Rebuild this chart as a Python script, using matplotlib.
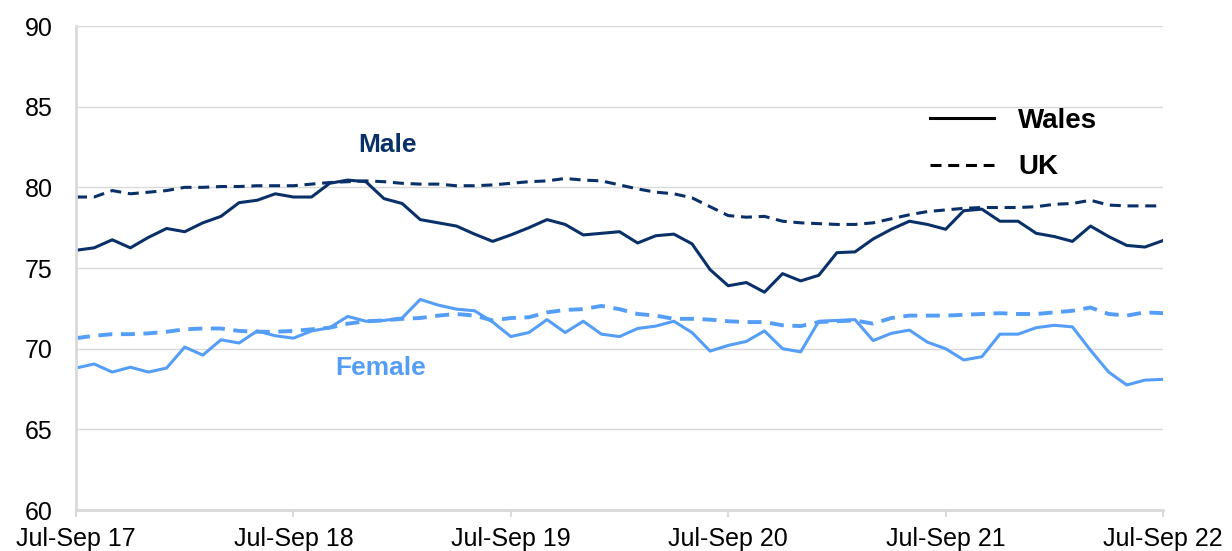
import numpy as np
import matplotlib
matplotlib.use("Agg")
from matplotlib import pyplot as plt
from matplotlib.lines import Line2D

plt.rcParams['font.family'] = ['Liberation Sans', 'DejaVu Sans']

# rolling quarters, monthly from Jul-Sep 17 to Jul-Sep 22
tick_labels = ['Jul-Sep 17', 'Jul-Sep 18', 'Jul-Sep 19', 'Jul-Sep 20', 'Jul-Sep 21', 'Jul-Sep 22']

male_wales = [76.1, 76.25, 76.75, 76.25, 76.9, 77.45, 77.25, 77.8, 78.2, 79.05,
              79.2, 79.6, 79.4, 79.4, 80.25, 80.45, 80.35, 79.3, 79.0, 78.0,
              77.8, 77.6, 77.1, 76.65, 77.05, 77.5, 78.0, 77.7, 77.05, 77.15,
              77.25, 76.55, 77.0, 77.1, 76.5, 74.9, 73.9, 74.1, 73.5, 74.65,
              74.2, 74.55, 75.95, 76.0, 76.8, 77.4, 77.9, 77.7, 77.4, 78.55,
              78.65, 77.9, 77.9, 77.15, 76.95, 76.65, 77.6, 76.95, 76.4, 76.3,
              76.7]
male_uk = [79.4, 79.4, 79.8, 79.6, 79.7, 79.8, 80.0, 80.0, 80.05, 80.05,
           80.1, 80.1, 80.1, 80.2, 80.3, 80.35, 80.4, 80.35, 80.25, 80.2,
           80.2, 80.1, 80.1, 80.15, 80.25, 80.35, 80.4, 80.55, 80.45, 80.4,
           80.15, 79.9, 79.7, 79.6, 79.35, 78.8, 78.25, 78.15, 78.2, 77.9,
           77.8, 77.75, 77.7, 77.7, 77.8, 78.05, 78.3, 78.5, 78.6, 78.7,
           78.75, 78.75, 78.75, 78.8, 78.95, 79.0, 79.2, 78.9, 78.85, 78.85,
           78.85]
female_wales = [68.8, 69.05, 68.55, 68.85, 68.55, 68.8, 70.1, 69.6, 70.55, 70.35,
                71.1, 70.8, 70.65, 71.1, 71.3, 72.0, 71.7, 71.75, 71.9, 73.05,
                72.7, 72.45, 72.35, 71.65, 70.75, 71.0, 71.8, 71.0, 71.7, 70.9,
                70.75, 71.25, 71.4, 71.7, 71.0, 69.85, 70.2, 70.45, 71.1, 70.0,
                69.8, 71.7, 71.75, 71.8, 70.5, 70.95, 71.15, 70.4, 70.0, 69.3,
                69.5, 70.9, 70.9, 71.3, 71.45, 71.35, 69.9, 68.55, 67.75, 68.05,
                68.1]
female_uk = [70.65, 70.8, 70.9, 70.9, 70.95, 71.05, 71.2, 71.25, 71.25, 71.1,
             71.05, 71.05, 71.1, 71.2, 71.3, 71.55, 71.7, 71.75, 71.85, 71.9,
             72.05, 72.15, 72.05, 71.75, 71.9, 71.95, 72.25, 72.4, 72.45, 72.65,
             72.45, 72.15, 72.05, 71.85, 71.85, 71.8, 71.7, 71.65, 71.65, 71.45,
             71.4, 71.65, 71.7, 71.75, 71.55, 71.9, 72.05, 72.05, 72.05, 72.1,
             72.15, 72.2, 72.15, 72.15, 72.25, 72.35, 72.55, 72.15, 72.05, 72.25,
             72.2]

navy = '#0a3069'
light = '#559ef8'
grey = '#d9d9d9'

x = np.arange(len(male_wales))

fig = plt.figure(figsize=(12.32, 5.51), dpi=100)
ax = fig.add_axes([0.0617, 0.0744, 0.8823, 0.8784])

dash = (0, (3.6, 2.2))
ax.plot(x, male_uk, color=navy, lw=2.2, ls=dash)
ax.plot(x, male_wales, color=navy, lw=2.2)
ax.plot(x, female_uk, color=light, lw=2.8, ls=dash)
ax.plot(x, female_wales, color=light, lw=2.2)

ax.set_xlim(0, 60)
ax.set_ylim(60, 90)
ax.set_yticks(np.arange(60, 91, 5))
ax.set_xticks(np.arange(0, 61, 12))
ax.set_xticklabels(tick_labels)
ax.tick_params(axis='y', length=0, labelsize=18, pad=17)
ax.tick_params(axis='x', length=5, width=1.5, color=grey, labelsize=18, pad=7)
ax.yaxis.grid(True, color=grey, lw=1)
ax.set_axisbelow(True)
for s in ['top', 'right']:
    ax.spines[s].set_visible(False)
for s in ['left', 'bottom']:
    ax.spines[s].set_color(grey)
    ax.spines[s].set_linewidth(2)

ax.text(17.2, 82.6, 'Male', color=navy, fontsize=19, fontweight='bold', ha='center', va='center')
ax.text(16.8, 68.8, 'Female', color=light, fontsize=19, fontweight='bold', ha='center', va='center')

handles = [Line2D([], [], color='black', lw=2.2),
           Line2D([], [], color='black', lw=2.2, ls=(0, (3.6, 2.2)))]
leg = ax.legend(handles, ['Wales', 'UK'], loc='upper left', bbox_to_anchor=(0.744, 0.83),
                bbox_transform=fig.transFigure, frameon=False, borderpad=0,
                handlelength=2.3, handletextpad=0.85, labelspacing=0.75,
                prop={'size': 20, 'weight': 'bold'})

fig.savefig('out.png', dpi=100)
